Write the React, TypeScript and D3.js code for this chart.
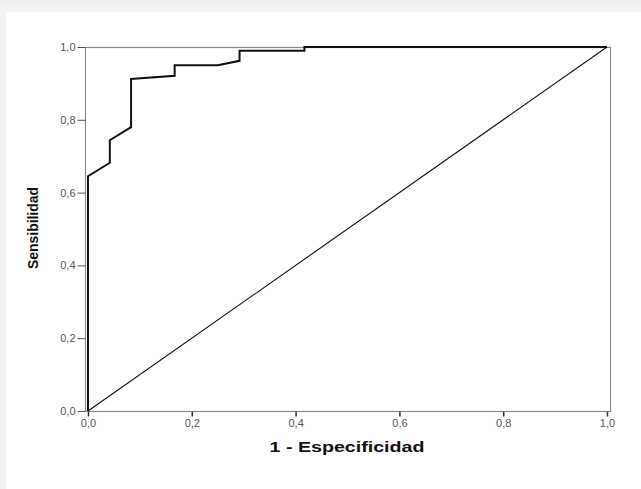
import { useEffect, useRef } from 'react'
import * as d3 from 'd3'

// ROC curve points (1 - especificidad, sensibilidad)
const fprValues = [0, 0, 0.042, 0.042, 0.083, 0.083, 0.167, 0.167, 0.25, 0.292, 0.292, 0.417, 0.417, 1]
const sensValues = [0, 0.645, 0.682, 0.744, 0.78, 0.912, 0.921, 0.95, 0.95, 0.962, 0.99, 0.99, 1, 1]
const tickValues = [0, 0.2, 0.4, 0.6, 0.8, 1]
const xTitle = '1 - Especificidad'
const yTitle = 'Sensibilidad'

const App = () => {
  const chart = useRef<SVGSVGElement>(null)

  useEffect(() => {
    const W = 641
    const H = 489
    const font = 'Liberation Sans, Arial, sans-serif'
    const svg = d3.select(chart.current)
    svg.selectAll('*').remove()

    // background: light gray strips top and left
    const defs = svg.append('defs')
    const gTop = defs.append('linearGradient').attr('id', 'gtop').attr('x1', 0).attr('y1', 0).attr('x2', 0).attr('y2', 1)
    gTop.append('stop').attr('offset', 0).attr('stop-color', '#ededed')
    gTop.append('stop').attr('offset', 1).attr('stop-color', '#f5f5f5')
    svg.append('rect').attr('width', W).attr('height', H).attr('fill', '#f4f4f4')
    svg.append('rect').attr('width', W).attr('height', 12).attr('fill', 'url(#gtop)')
    svg.append('rect').attr('x', 6).attr('y', 12).attr('width', W - 6).attr('height', H - 12).attr('fill', '#ffffff')

    const x = d3.scaleLinear().domain([0, 1]).range([88, 607])
    const y = d3.scaleLinear().domain([0, 1]).range([411, 47])
    const fmt = (d: d3.NumberValue) => d3.format('.1f')(d as number).replace('.', ',')

    // frame
    svg.append('rect')
      .attr('x', 85.5).attr('y', 47.5)
      .attr('width', 610 - 85).attr('height', 411 - 47)
      .attr('fill', 'none').attr('stroke', '#8a8a8a').attr('stroke-width', 1.2)

    // y axis
    const yAxis = svg.append('g')
      .attr('transform', 'translate(85.5,0)')
      .call(d3.axisLeft(y).tickValues(tickValues).tickSize(8).tickPadding(2).tickFormat(fmt))
    yAxis.select('.domain').remove()
    yAxis.selectAll('.tick line').attr('stroke', '#555')
    yAxis.selectAll('.tick text')
      .attr('fill', '#555').attr('font-size', 11).attr('font-family', font)

    // x axis
    const xAxis = svg.append('g')
      .attr('transform', 'translate(0,411.5)')
      .call(d3.axisBottom(x).tickValues(tickValues).tickSize(5).tickPadding(3).tickFormat(fmt))
    xAxis.select('.domain').remove()
    xAxis.selectAll('.tick line').attr('stroke', '#333').attr('stroke-width', 1.5)
    xAxis.selectAll('.tick text')
      .attr('fill', '#555').attr('font-size', 11).attr('font-family', font)

    // reference diagonal
    svg.append('line')
      .attr('x1', x(0)).attr('y1', y(0))
      .attr('x2', x(1)).attr('y2', y(1))
      .attr('stroke', '#111').attr('stroke-width', 1.1)

    // ROC curve
    const points: [number, number][] = fprValues.map((f, i) => [f, sensValues[i]])
    const line = d3.line<[number, number]>()
      .x(d => x(d[0]))
      .y(d => y(d[1]))
    svg.append('path')
      .datum(points)
      .attr('d', line)
      .attr('fill', 'none')
      .attr('stroke', '#111')
      .attr('stroke-width', 2)

    // titles
    svg.append('text')
      .attr('x', 347).attr('y', 452)
      .attr('text-anchor', 'middle')
      .attr('font-family', font)
      .attr('font-weight', 'bold').attr('font-size', 14)
      .attr('textLength', 155).attr('lengthAdjust', 'spacingAndGlyphs')
      .attr('fill', '#111')
      .text(xTitle)

    svg.append('text')
      .attr('transform', 'translate(38,228) rotate(-90)')
      .attr('text-anchor', 'middle')
      .attr('font-family', font)
      .attr('font-weight', 'bold').attr('font-size', 14.5)
      .attr('textLength', 82).attr('lengthAdjust', 'spacingAndGlyphs')
      .attr('fill', '#111')
      .text(yTitle)
  }, [])

  return (
    <svg ref={chart} width={641} height={489}
      style={{ position: 'absolute', left: 0, top: 0, display: 'block' }} />
  )
}

export default App
